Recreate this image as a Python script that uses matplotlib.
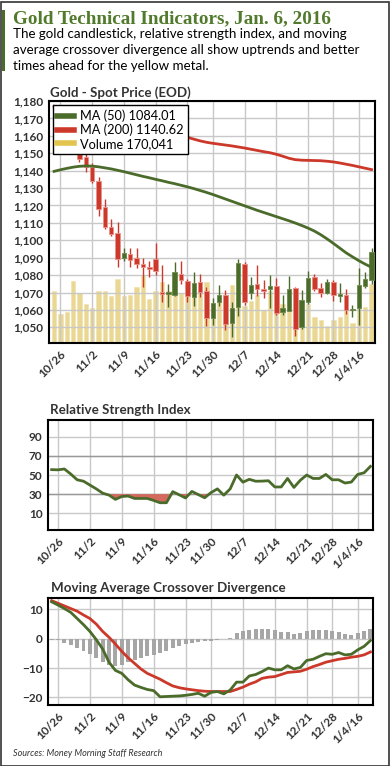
import matplotlib
matplotlib.use("Agg")
import matplotlib.pyplot as plt
from matplotlib.lines import Line2D
from matplotlib.patches import Rectangle
import numpy as np

# trading days 10/23/2015 .. 1/6/2016, index 0..50
tick_pos = [1, 6, 11, 16, 21, 25, 30, 35, 40, 44, 48]
tick_labels = ['10/26', '11/2', '11/9', '11/16', '11/23', '11/30',
               '12/7', '12/14', '12/21', '12/28', '1/4/16']

nan = float('nan')
# first four candles sit under the legend box in the original
opens = [nan, nan, nan, nan, 1151, 1148, 1142, 1134, 1119.3, 1107.8,
         1104, 1089.7, 1092, 1089.6, 1086.4, 1084.6, 1089.3, 1070.3, 1069.1, 1068.4,
         1080.6, 1076.8, 1067.6, 1076.2, 1071, 1055.2, 1064.3, 1068.6, 1052.6, 1061.8,
         1086.4, 1069.5, 1074.9, 1072, 1071.8, 1073.9, 1058.8, 1059.5, 1072.8, 1050.3,
         1064.7, 1079, 1072.6, 1070, 1075.9, 1068.2, 1068.6, 1060, 1061.3, 1074,
         1077.2]
closes = [nan, nan, nan, nan, 1146.7, 1142, 1134, 1118, 1107.8, 1103.6,
          1089.3, 1092.5, 1088.7, 1086.4, 1084.8, 1083.7, 1082.5, 1069.3, 1070.3, 1082,
          1077.2, 1068, 1075.3, 1070.5, 1055.5, 1064.1, 1068.6, 1051.7, 1061, 1086.8,
          1064.7, 1074.3, 1072.2, 1071, 1073.9, 1058, 1060.9, 1072, 1048.8, 1065.7,
          1078.2, 1071.8, 1070, 1076.2, 1068.6, 1069.3, 1059.9, 1060.7, 1074.3, 1077.8,
          1093.1]
highs = [nan, nan, nan, nan, 1153, 1150, 1144.4, 1136.4, 1123.7, 1112,
         1110.7, 1095.6, 1095.4, 1095.4, 1089.7, 1088.3, 1098.3, 1085.8, 1074.9, 1087.4,
         1088.3, 1077.6, 1081.6, 1080.6, 1073, 1066.7, 1074.3, 1071.4, 1064.3, 1089.3,
         1087.4, 1079, 1085.8, 1077.2, 1080, 1078.5, 1068.6, 1079.3, 1073.3, 1071.4,
         1082.4, 1080.8, 1075.3, 1077.8, 1077.2, 1075.3, 1072, 1062.8, 1083.9, 1082,
         1095.7]
lows = [nan, nan, nan, nan, 1145, 1139, 1133, 1114, 1106.5, 1102.5,
        1084.8, 1088.3, 1084.5, 1083.9, 1073.3, 1078.7, 1080, 1064.7, 1061.8, 1068,
        1074.9, 1064.7, 1062.2, 1067.2, 1050.7, 1051.3, 1062.5, 1048.4, 1044.3, 1056.7,
        1062.8, 1066.3, 1068.2, 1066.7, 1061, 1057, 1057, 1059.4, 1045.2, 1049,
        1063.2, 1071, 1067.6, 1069.1, 1065.3, 1064.7, 1057.6, 1056, 1051.3, 1072.4,
        1074.9]
# volume, thousands of contracts
volume = [148, 83, 88, 179, 145, 113, 100, 148, 150, 134,
          184, 136, 139, 160, 194, 127, 148, 174, 148, 144,
          144, 144, 144, 148, 175, 115, 118, 138, 167, 106,
          107, 121, 139, 96, 148, 115, 113, 96, 43, 43,
          113, 76, 67, 50, 67, 76, 91, 57, 100, 102,
          170]
ma50 = [1139.6, 1140.5, 1141.3, 1142, 1142.5, 1142.7, 1142.6, 1142.2, 1141.6, 1141,
        1140.2, 1139.4, 1138.5, 1137.6, 1136.7, 1135.9, 1135, 1134.2, 1133.3, 1132.5,
        1131.6, 1130.7, 1129.7, 1128.6, 1127.5, 1126.3, 1125, 1123.7, 1122.4, 1121.1,
        1119.8, 1118.5, 1117.2, 1116, 1114.8, 1113.6, 1112.4, 1111.2, 1109.9, 1108.5,
        1107, 1105.3, 1103.2, 1100.8, 1098.2, 1095.5, 1092.8, 1090.5, 1088.3, 1086.3,
        1084.5]
ma200 = [1177, 1176, 1175.2, 1174.3, 1173.5, 1172.6, 1171.8, 1171, 1170.1, 1169.3,
         1168.5, 1167.7, 1166.9, 1166.1, 1165.3, 1164.5, 1163.7, 1162.9, 1162.2, 1161.4,
         1160.3, 1159.2, 1158.1, 1157.1, 1156.3, 1155.7, 1155.2, 1154.7, 1154.2, 1153.6,
         1153, 1152.3, 1151.6, 1150.9, 1150.3, 1149.4, 1148.3, 1147.1, 1146.3, 1146,
         1145.9, 1145.8, 1145.7, 1145.4, 1145, 1144.4, 1143.7, 1143, 1142.2, 1141.4,
         1140.6]
rsi = [55.6, 55.4, 56.3, 51, 45, 43.5, 39.5, 35.5, 31, 29,
       24.5, 27.5, 28, 25.5, 25.5, 25.5, 23.4, 21, 21, 32.6,
       29.3, 26, 32.8, 29.5, 26.2, 31.6, 35.5, 28.9, 35.5, 50,
       42.5, 45.5, 43.5, 43.6, 44, 37.5, 37.5, 46.4, 37, 44.5,
       50, 46.4, 46.4, 50.6, 45, 45, 41.6, 42.6, 50.6, 52.3,
       59]
macd = [12.6, 11.5, 10.3, 9.0, 6.9, 4.8, 2.5, -0.3, -3.5, -8.0,
        -10.8, -11.8, -14.0, -15.8, -16.6, -17.3, -17.7, -19.8, -19.7, -19.6,
        -19.5, -19.3, -19, -18.6, -19.6, -18.3, -18, -18.8, -17.5, -14.8,
        -14.8, -12.7, -12.2, -11.2, -10, -10.6, -10.6, -9.2, -10.3, -9.8,
        -7.4, -7, -6, -5.1, -5.3, -4.7, -5.5, -5.3, -3.8, -2.6,
        -0.6]
signal = [13.0, 12.1, 11.2, 10.3, 9.4, 8.1, 6.9, 5.0, 2.5, 0.5,
          -1.8, -4.3, -6.5, -8.4, -10.3, -11.8, -12.8, -13.8, -15, -16.1,
          -16.7, -17.1, -17.4, -17.7, -17.9, -18, -18, -18, -18, -17.3,
          -16.5, -15.5, -14.7, -13.5, -13.1, -12.9, -12.2, -11.5, -11.3, -11.1,
          -10.4, -9.5, -8.8, -8.0, -7.5, -7.0, -6.7, -6.3, -6.0, -5.5,
          -4.5]
hist = [-0.3, -0.3, -1.3, -2.1, -3, -4.3, -5.3, -6.6, -8.1, -8.9,
        -9.2, -8.9, -7.8, -7.2, -6.6, -6, -5.5, -4.9, -4.1, -3.2,
        -2.4, -1.8, -1.5, -1.1, -0.9, -0.7, -0.5, -0.2, 0.2, 1.9,
        2.5, 2.9, 3.3, 3.3, 3.3, 2.9, 2.3, 2.3, 1.6, 1.9,
        2.7, 2.9, 2.9, 3.1, 2.7, 2.3, 1.6, 1.4, 1.9, 2.5,
        3.3]

GREEN = '#4b6b2b'
RED = '#cc3829'
GOLD = '#e2c766'
GRID = '#c8c8c8'
TXT = '#333333'
W, H = 390, 766


def box(l, t, r, b):
    return [l / W, 1 - b / H, (r - l) / W, (b - t) / H]


def style_axes(ax):
    ax.set_xticks(tick_pos)
    ax.set_xticklabels(tick_labels, rotation=45, ha='right', rotation_mode='anchor')
    ax.tick_params(length=0, labelsize=8.5, colors=TXT, pad=4)
    for lab in ax.get_xticklabels() + ax.get_yticklabels():
        lab.set_fontweight('bold')
        lab.set_fontfamily('Lato')
    ax.grid(True, color=GRID, lw=1)
    ax.set_axisbelow(True)
    for s in ax.spines.values():
        s.set_linewidth(1.5)
        s.set_color('black')


def main():
    plt.rcParams['font.family'] = ['Lato', 'DejaVu Sans']
    fig = plt.figure(figsize=(W / 100, H / 100), dpi=100)

    # frame and title block
    fig.patches.append(Rectangle((0.5 / W, 0.5 / H), (W - 2) / W, (H - 2) / H,
                                 transform=fig.transFigure, fill=False,
                                 ec='#333333', lw=1.2))
    fig.patches.append(Rectangle((2 / W, 1 - 71 / H), 3 / W, 61 / H,
                                 transform=fig.transFigure, color=GREEN, lw=0))
    fig.text(13 / W, 1 - 23.5 / H, 'Gold Technical Indicators, Jan. 6, 2016',
             family='Liberation Serif', weight='bold', size=13.8, color='#527a2d')
    sub = ['The gold candlestick, relative strength index, and moving',
           'average crossover divergence all show uptrends and better',
           'times ahead for the yellow metal.']
    for k, line in enumerate(sub):
        fig.text(13 / W, 1 - (37.5 + 16 * k) / H, line, size=9.6, color='black')

    x = np.arange(len(closes))
    xlim = (-0.57, 50.4)

    # price panel
    ax = fig.add_axes(box(49, 101, 375, 343))
    axv = ax.twinx()
    ax.set_zorder(axv.get_zorder() + 1)
    ax.patch.set_visible(False)
    axv.bar(x, volume, width=0.68, color=GOLD, alpha=0.7, edgecolor='#f0e0a8', lw=0.6)
    axv.set_ylim(0, 695)
    axv.set_yticks([])
    for s in axv.spines.values():
        s.set_visible(False)

    o = np.array(opens)
    c = np.array(closes)
    up = c >= o
    cols = np.where(up, GREEN, RED)
    ax.vlines(x, lows, highs, colors=cols, lw=1, zorder=3)
    ax.bar(x, np.maximum(np.abs(c - o), 0.6), bottom=np.minimum(o, c), width=0.7,
           color=cols, edgecolor=np.where(up, '#6d8a4c', '#e8928a'), lw=0.6, zorder=4)
    ax.plot(x, ma50, color=GREEN, lw=2, zorder=5)
    ax.plot(x, ma200, color=RED, lw=2, zorder=5)
    ax.set_xlim(-0.8, 50.55)
    ax.set_ylim(1041, 1180)
    ax.set_yticks(range(1050, 1181, 10))
    ax.set_yticklabels(['{:,}'.format(v) for v in range(1050, 1181, 10)])
    style_axes(ax)
    handles = [Line2D([], [], color=GREEN, lw=4),
               Line2D([], [], color=RED, lw=4),
               Line2D([], [], color='#e2c44e', lw=4)]
    leg = ax.legend(handles, ['MA (50) 1084.01', 'MA (200) 1140.62', 'Volume 170,041'],
                    loc='upper left', bbox_to_anchor=(0.012, 0.983), borderaxespad=0,
                    fontsize=9.2, frameon=True, fancybox=False, framealpha=1,
                    edgecolor='black', handlelength=1.3, handletextpad=0.5,
                    borderpad=0.35, labelspacing=0.12)
    leg.get_frame().set_linewidth(1)
    leg.set_zorder(10)
    fig.text(50 / W, 1 - 96.5 / H, 'Gold - Spot Price (EOD)', size=9.6, weight='bold', color=TXT)

    # RSI panel
    ax2 = fig.add_axes(box(48, 420, 373, 530))
    ax2.plot(x, rsi, color=GREEN, lw=2, zorder=4)
    r = np.array(rsi)
    ax2.fill_between(x, r, 30, where=r < 30, interpolate=True, color='#d46a5e', lw=0, zorder=3)
    ax2.set_xlim(*xlim)
    ax2.set_ylim(-7.5, 107.5)
    ax2.set_yticks([10, 30, 50, 70, 90])
    style_axes(ax2)
    ax2.axhline(30, color='#999999', lw=1, zorder=2)
    ax2.axhline(70, color='#999999', lw=1, zorder=2)
    fig.text(49.5 / W, 1 - 413.5 / H, 'Relative Strength Index', size=9.6, weight='bold', color=TXT)

    # MACD panel
    ax3 = fig.add_axes(box(48, 598, 373, 705))
    ax3.bar(x, hist, width=0.62, color='#a6a6a6', zorder=2)
    ax3.plot(x, macd, color=GREEN, lw=2, zorder=4)
    ax3.plot(x, signal, color=RED, lw=2, zorder=3)
    ax3.set_xlim(*xlim)
    ax3.set_ylim(-22.6, 13.9)
    ax3.set_yticks([-20, -10, 0, 10])
    style_axes(ax3)
    fig.text(51 / W, 1 - 592.5 / H, 'Moving Average Crossover Divergence', size=9.6,
             weight='bold', color=TXT)

    fig.text(13 / W, 1 - 756 / H, 'Sources: Money Morning Staff Research', size=6.5,
             style='italic', color=TXT)

    fig.savefig('out.png', dpi=100)


if __name__ == '__main__':
    main()
